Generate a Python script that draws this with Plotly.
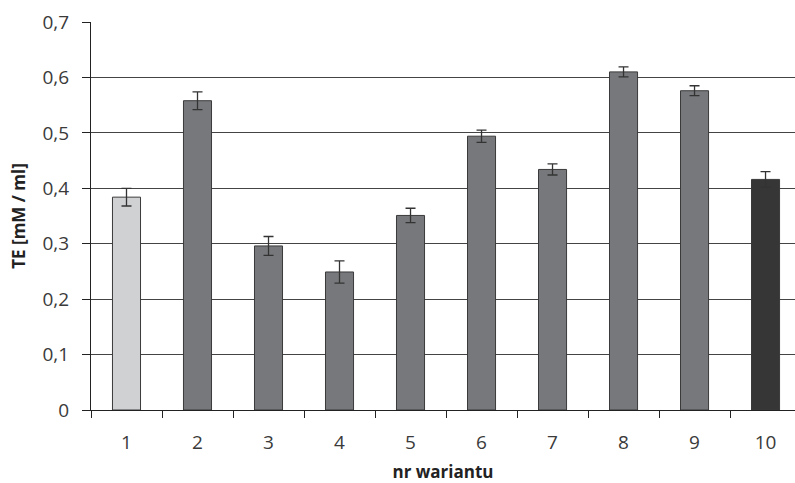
import plotly.graph_objects as go

# Variant numbers, mean TE values and their error margins
variants = [1, 2, 3, 4, 5, 6, 7, 8, 9, 10]
te_values = [0.384, 0.558, 0.296, 0.249, 0.351, 0.494, 0.434, 0.610, 0.576, 0.416]
te_errors = [0.016, 0.016, 0.017, 0.020, 0.013, 0.011, 0.010, 0.009, 0.009, 0.014]
bar_colors = ["#d0d1d3"] + ["#77787b"] * 8 + ["#363636"]
tick_labels = [str(v) for v in variants]
y_ticks = [0, 0.1, 0.2, 0.3, 0.4, 0.5, 0.6, 0.7]

FONT = "Open Sans, Liberation Sans, sans-serif"

fig = go.Figure()
fig.add_trace(go.Bar(
    x=variants,
    y=te_values,
    width=0.395,
    marker=dict(color=bar_colors, line=dict(color="#3a3a3a", width=1)),
    error_y=dict(type="data", array=te_errors, visible=True,
                 color="#333333", thickness=1.3, width=5),
    showlegend=False,
))

fig.update_layout(
    width=795, height=483,
    margin=dict(l=91, r=0, t=22, b=73),
    paper_bgcolor="white", plot_bgcolor="white",
    separators=", ",
    font=dict(family=FONT, color="#3a3a3a", size=16),
)

fig.update_xaxes(
    range=[0.5, 10.415],
    tickmode="array", tickvals=variants, ticktext=tick_labels,
    ticks="", ticklabelstandoff=15,
    tickfont=dict(size=19, color="#3a3a3a"),
    showline=True, linecolor="#222222", linewidth=1.3,
    showgrid=False, zeroline=False,
    minor=dict(ticks="outside", ticklen=7, tickcolor="#222222", tickwidth=1,
               tick0=0.5, dtick=1, showgrid=False),
    title=dict(text="<b>nr wariantu</b>", font=dict(size=17, color="#222222"),
               standoff=12),
)

fig.update_yaxes(
    range=[0, 0.7],
    tickmode="array", tickvals=y_ticks,
    ticks="outside", ticklen=8, tickcolor="#222222", tickwidth=1,
    ticklabelstandoff=9,
    tickfont=dict(size=19, color="#3a3a3a"),
    showline=True, linecolor="#222222", linewidth=1.3,
    showgrid=True, gridcolor="#444444", gridwidth=1,
    zeroline=False,
    title=dict(text="<b>TE [mM / ml]</b>", font=dict(size=17, color="#222222"),
               standoff=12),
)

fig.write_html("out.html")
